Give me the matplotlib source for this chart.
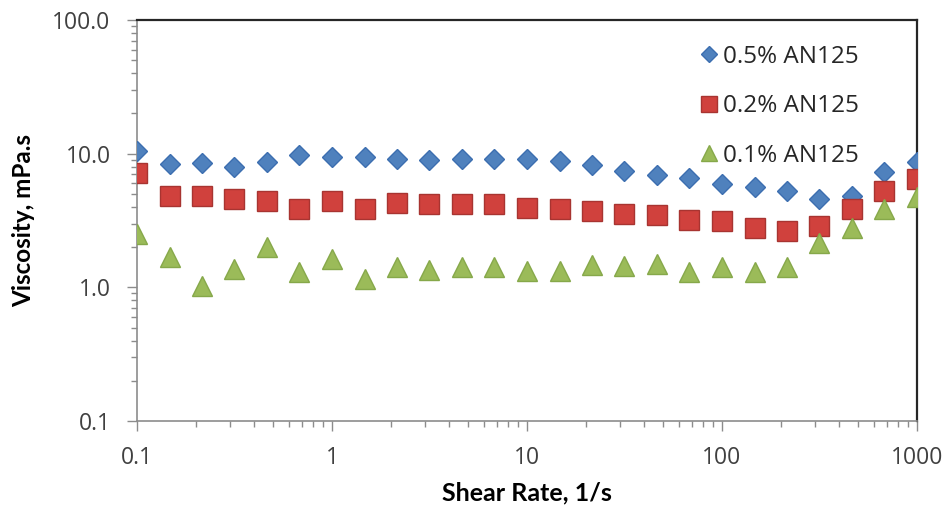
import matplotlib
matplotlib.use('Agg')
import matplotlib.pyplot as plt
from matplotlib.ticker import FixedLocator, LogLocator, NullFormatter

# shear rate steps (1/s) and measured viscosity (mPa.s)
shear_rate = [0.1, 0.147, 0.215, 0.316, 0.464, 0.681, 1.0, 1.47, 2.15, 3.16,
              4.64, 6.81, 10.0, 14.7, 21.5, 31.6, 46.4, 68.1, 100.0, 147.0,
              215.0, 316.0, 464.0, 681.0, 1000.0]
visc_05 = [10.5, 8.3, 8.5, 8.0, 8.6, 9.7, 9.5, 9.4, 9.1, 9.0,
           9.2, 9.1, 9.1, 8.8, 8.2, 7.4, 6.9, 6.6, 5.9, 5.6,
           5.3, 4.6, 4.8, 7.3, 8.6]
visc_02 = [7.2, 4.85, 4.85, 4.6, 4.4, 3.85, 4.45, 3.85, 4.25, 4.2,
           4.2, 4.2, 3.95, 3.85, 3.7, 3.55, 3.5, 3.2, 3.15, 2.8,
           2.65, 2.9, 3.85, 5.3, 6.5]
visc_01 = [2.5, 1.68, 1.02, 1.36, 1.99, 1.30, 1.62, 1.15, 1.41, 1.35,
           1.41, 1.41, 1.33, 1.33, 1.46, 1.45, 1.50, 1.30, 1.41, 1.30,
           1.41, 2.16, 2.79, 3.87, 4.72]
labels = ['0.5% AN125', '0.2% AN125', '0.1% AN125']

x_ticks = [0.1, 1, 10, 100, 1000]
x_ticklabels = ['0.1', '1', '10', '100', '1000']
y_ticks = [0.1, 1, 10, 100]
y_ticklabels = ['0.1', '1.0', '10.0', '100.0']

plt.rcParams['font.family'] = ['Open Sans', 'DejaVu Sans']

fig = plt.figure(figsize=(9.47, 5.09), dpi=100)
ax = fig.add_axes([137 / 947, 88 / 509, 780 / 947, 401 / 509])

ax.plot(shear_rate, visc_05, 'D', ms=10, color='#4F81BD', mec='#3C6EB0',
        label=labels[0], zorder=3)
ax.plot(shear_rate, visc_02, 's', ms=14, color='#D0413D', mec='#A83431',
        label=labels[1], zorder=4)
ax.plot(shear_rate, visc_01, '^', ms=14, color='#9BBB59', mec='#86A84A',
        label=labels[2], zorder=5)

ax.set_xscale('log')
ax.set_yscale('log')
ax.set_xlim(0.1, 1000)
ax.set_ylim(0.1, 100)

ax.xaxis.set_major_locator(FixedLocator(x_ticks))
ax.set_xticklabels(x_ticklabels)
ax.yaxis.set_major_locator(FixedLocator(y_ticks))
ax.set_yticklabels(y_ticklabels)
ax.xaxis.set_minor_locator(LogLocator(base=10, subs=range(2, 10)))
ax.yaxis.set_minor_locator(LogLocator(base=10, subs=range(2, 10)))
ax.xaxis.set_minor_formatter(NullFormatter())
ax.yaxis.set_minor_formatter(NullFormatter())

ax.tick_params(which='major', direction='out', length=7, width=1,
               color='#8C8C8C', labelsize=16.5, labelcolor='#404040')
ax.tick_params(which='minor', direction='out', length=4, width=1,
               color='#8C8C8C')
ax.tick_params(axis='x', which='major', pad=11)
ax.tick_params(axis='y', which='major', pad=12)

for side in ['left', 'bottom']:
    ax.spines[side].set_color('#8C8C8C')
    ax.spines[side].set_linewidth(1.2)
for side in ['top', 'right']:
    ax.spines[side].set_color('#262626')
    ax.spines[side].set_linewidth(1.6)

ax.set_xlabel('Shear Rate, 1/s', fontsize=18, fontweight='bold',
              family=['Lato', 'DejaVu Sans'])
ax.set_ylabel('Viscosity, mPa.s', fontsize=17.5, fontweight='bold',
              family=['Lato', 'DejaVu Sans'])
ax.xaxis.set_label_coords(0.5, -0.15)
ax.yaxis.set_label_coords(-0.131, 0.5)

leg = ax.legend(loc='upper left', bbox_to_anchor=(0.708, 0.962), frameon=False,
                fontsize=17.5, markerscale=0.85, handlelength=0.8,
                handletextpad=0.2, labelspacing=1.05, borderaxespad=0)
for t in leg.get_texts():
    t.set_color('#262626')

fig.savefig('out.png', dpi=100)
